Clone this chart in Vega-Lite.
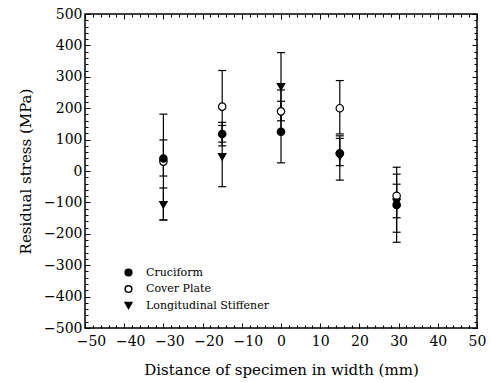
{
  "$schema": "https://vega.github.io/schema/vega-lite/v6.json",
  "width": 392,
  "height": 314,
  "autosize": {"type": "none"},
  "padding": {"left": 85, "top": 14, "right": 15, "bottom": 55},
  "background": "white",
  "config": {
    "view": {"stroke": "black", "strokeWidth": 1.5},
    "axis": {
      "grid": false,
      "domain": false,
      "tickColor": "black",
      "tickWidth": 1,
      "labelFont": "DejaVu Serif",
      "labelFontSize": 14,
      "labelColor": "black",
      "titleFont": "DejaVu Serif",
      "titleFontSize": 15,
      "titleFontWeight": "normal",
      "titleColor": "black",
      "labelFlush": false,
      "labelOverlap": false
    },
    "legend": {
      "labelFont": "DejaVu Serif",
      "labelFontSize": 11,
      "labelColor": "black"
    }
  },
  "data": {
    "values": [
      {"x": -30, "series": "Cover Plate", "value": 30, "lo": -156, "hi": 181},
      {"x": -15, "series": "Cover Plate", "value": 205, "lo": 92, "hi": 320},
      {"x": 0, "series": "Cover Plate", "value": 190, "lo": 122, "hi": 258},
      {"x": 15, "series": "Cover Plate", "value": 200, "lo": 118, "hi": 288},
      {"x": 29.5, "series": "Cover Plate", "value": -79, "lo": -149, "hi": -10},
      {"x": -30, "series": "Cruciform", "value": 40, "lo": -16, "hi": 99},
      {"x": -15, "series": "Cruciform", "value": 118, "lo": 80, "hi": 155},
      {"x": 0, "series": "Cruciform", "value": 125, "lo": 26, "hi": 222},
      {"x": 15, "series": "Cruciform", "value": 56, "lo": 17, "hi": 104},
      {"x": 29.5, "series": "Cruciform", "value": -108, "lo": -227, "hi": 12},
      {"x": -30, "series": "Longitudinal Stiffener", "value": -108, "lo": -156, "hi": -54},
      {"x": -15, "series": "Longitudinal Stiffener", "value": 45, "lo": -50, "hi": 145},
      {"x": 0, "series": "Longitudinal Stiffener", "value": 268, "lo": 160, "hi": 377},
      {"x": 15, "series": "Longitudinal Stiffener", "value": 46, "lo": -29, "hi": 112},
      {"x": 29.5, "series": "Longitudinal Stiffener", "value": -100, "lo": -195, "hi": -42}
    ]
  },
  "resolve": {"axis": {"x": "independent", "y": "independent"}},
  "layer": [
    {
      "mark": {"type": "rule", "color": "black", "strokeWidth": 1.2},
      "encoding": {
        "x": {
          "field": "x", "type": "quantitative",
          "scale": {"domain": [-50, 50], "nice": false, "zero": false},
          "axis": {
            "orient": "bottom",
            "values": [-50, -40, -30, -20, -10, 0, 10, 20, 30, 40, 50],
            "offset": -5,
            "tickSize": 5,
            "labelPadding": 6,
            "labelOffset": {"condition": {"test": "datum.value < 0", "value": 6}, "value": 0},
            "title": "Distance of specimen in width (mm)",
            "titlePadding": 14
          }
        },
        "y": {
          "field": "lo", "type": "quantitative",
          "scale": {"domain": [-500, 500], "nice": false, "zero": false},
          "axis": {
            "orient": "left",
            "values": [-500, -400, -300, -200, -100, 0, 100, 200, 300, 400, 500],
            "offset": -5,
            "tickSize": 5,
            "labelPadding": 3,
            "title": "Residual stress (MPa)",
            "titlePadding": 10
          }
        },
        "y2": {"field": "hi"}
      }
    },
    {
      "mark": {"type": "tick", "orient": "horizontal", "color": "black", "size": 8, "thickness": 1.2, "opacity": 1},
      "encoding": {
        "x": {
          "field": "x", "type": "quantitative",
          "axis": {
            "orient": "bottom", "labels": false, "title": null, "offset": -3, "tickSize": 3,
            "values": [-50,-48,-46,-44,-42,-40,-38,-36,-34,-32,-30,-28,-26,-24,-22,-20,-18,-16,-14,-12,-10,-8,-6,-4,-2,0,2,4,6,8,10,12,14,16,18,20,22,24,26,28,30,32,34,36,38,40,42,44,46,48,50]
          }
        },
        "y": {
          "field": "lo", "type": "quantitative",
          "axis": {
            "orient": "left", "labels": false, "title": null, "offset": -3, "tickSize": 3,
            "values": [-500,-480,-460,-440,-420,-400,-380,-360,-340,-320,-300,-280,-260,-240,-220,-200,-180,-160,-140,-120,-100,-80,-60,-40,-20,0,20,40,60,80,100,120,140,160,180,200,220,240,260,280,300,320,340,360,380,400,420,440,460,480,500]
          }
        }
      }
    },
    {
      "mark": {"type": "tick", "orient": "horizontal", "color": "black", "size": 8, "thickness": 1.2, "opacity": 1},
      "encoding": {
        "x": {
          "field": "x", "type": "quantitative",
          "axis": {
            "orient": "top", "labels": false, "title": null, "offset": -5, "tickSize": 5,
            "values": [-50, -40, -30, -20, -10, 0, 10, 20, 30, 40, 50]
          }
        },
        "y": {
          "field": "hi", "type": "quantitative",
          "axis": {
            "orient": "right", "labels": false, "title": null, "offset": -5, "tickSize": 5,
            "values": [-500, -400, -300, -200, -100, 0, 100, 200, 300, 400, 500]
          }
        }
      }
    },
    {
      "mark": {"type": "point", "filled": true, "stroke": "black", "strokeWidth": 1.2, "opacity": 1, "size": 55},
      "encoding": {
        "x": {
          "field": "x", "type": "quantitative",
          "axis": {
            "orient": "top", "labels": false, "title": null, "offset": -3, "tickSize": 3,
            "values": [-50,-48,-46,-44,-42,-40,-38,-36,-34,-32,-30,-28,-26,-24,-22,-20,-18,-16,-14,-12,-10,-8,-6,-4,-2,0,2,4,6,8,10,12,14,16,18,20,22,24,26,28,30,32,34,36,38,40,42,44,46,48,50]
          }
        },
        "y": {
          "field": "value", "type": "quantitative",
          "axis": {
            "orient": "right", "labels": false, "title": null, "offset": -3, "tickSize": 3,
            "values": [-500,-480,-460,-440,-420,-400,-380,-360,-340,-320,-300,-280,-260,-240,-220,-200,-180,-160,-140,-120,-100,-80,-60,-40,-20,0,20,40,60,80,100,120,140,160,180,200,220,240,260,280,300,320,340,360,380,400,420,440,460,480,500]
          }
        },
        "shape": {
          "field": "series", "type": "nominal",
          "scale": {"domain": ["Cruciform", "Cover Plate", "Longitudinal Stiffener"], "range": ["circle", "circle", "triangle-down"]},
          "legend": {
            "title": null, "orient": "none", "legendX": 38, "legendY": 253,
            "padding": 0, "symbolSize": 45, "rowPadding": 3.5, "labelOffset": 12,
            "encode": {"symbols": {"update": {"stroke": {"value": "black"}, "strokeWidth": {"value": 1.2}}}}
          }
        },
        "fill": {
          "field": "series", "type": "nominal",
          "scale": {"domain": ["Cruciform", "Cover Plate", "Longitudinal Stiffener"], "range": ["black", "white", "black"]},
          "legend": {
            "title": null, "orient": "none", "legendX": 38, "legendY": 253,
            "padding": 0, "symbolSize": 45, "rowPadding": 3.5, "labelOffset": 12,
            "encode": {"symbols": {"update": {"stroke": {"value": "black"}, "strokeWidth": {"value": 1.2}}}}
          }
        }
      }
    }
  ]
}
